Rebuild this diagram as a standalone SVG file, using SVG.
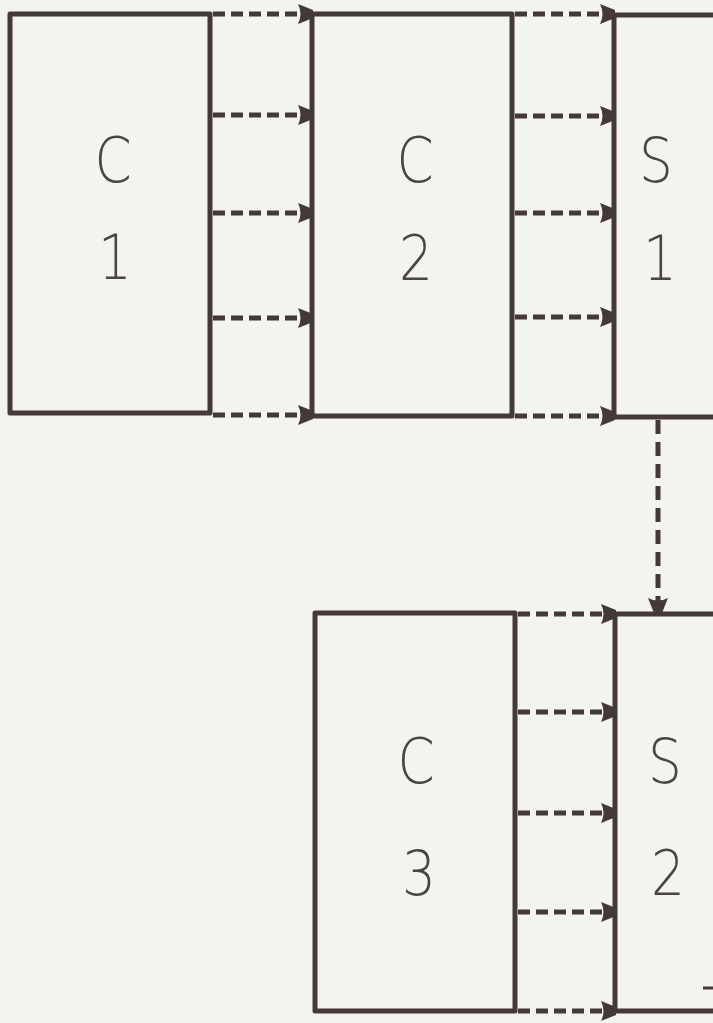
<svg xmlns="http://www.w3.org/2000/svg" width="713" height="1023" viewBox="0 0 713 1023">
<style>
.box{fill:none;stroke:#453838;stroke-width:5;stroke-linejoin:round}
.lbl{font-family:"DejaVu Sans",sans-serif;font-weight:200;font-size:62px;fill:#4a4444;text-anchor:middle}
.dh{stroke:#453838;stroke-width:5;stroke-dasharray:12 6;fill:none;marker-end:url(#ah)}
.dv{stroke:#453838;stroke-width:5;stroke-dasharray:14 8;fill:none;marker-end:url(#ah)}
</style>
<defs>
<marker id="ah" markerUnits="userSpaceOnUse" markerWidth="18" markerHeight="22" refX="16" refY="11" orient="auto" viewBox="0 0 18 22">
<path d="M1,1 L16,7 L16,15 L1,21 Q6,11 1,1 z" fill="#453838"/>
</marker>
</defs>
<rect x="0" y="0" width="713" height="1023" fill="#f3f3ef"/>
<g id="C1"><rect class="box" x="10" y="14" width="200" height="399"/><text class="lbl" transform="translate(113,182) scale(0.86,1)">C</text><text class="lbl" transform="translate(115,279) scale(0.86,1)">1</text></g>
<g id="C2"><rect class="box" x="312" y="14" width="200" height="402"/><text class="lbl" transform="translate(415,182) scale(0.86,1)">C</text><text class="lbl" transform="translate(416,280) scale(0.86,1)">2</text></g>
<g id="S1"><path class="box" d="M720,15 L614,15 L614,417 L720,417"/><text class="lbl" transform="translate(656,182) scale(0.86,1)">S</text><text class="lbl" transform="translate(660,280) scale(0.86,1)">1</text></g>
<g id="C3"><rect class="box" x="315" y="613" width="200" height="398"/><text class="lbl" transform="translate(416,783) scale(0.86,1)">C</text><text class="lbl" transform="translate(419,895) scale(0.86,1)">3</text></g>
<g id="S2"><path class="box" d="M720,614 L615,614 L615,1011 L720,1011"/><text class="lbl" transform="translate(665,783) scale(0.86,1)">S</text><text class="lbl" transform="translate(668,895) scale(0.86,1)">2</text><line x1="703" y1="988" x2="713" y2="988" stroke="#453838" stroke-width="3"/></g>
<g id="connectors">
<line class="dh" x1="213" y1="14" x2="313" y2="14"/>
<line class="dh" x1="213" y1="115" x2="313" y2="115"/>
<line class="dh" x1="213" y1="213" x2="313" y2="213"/>
<line class="dh" x1="213" y1="318" x2="313" y2="318"/>
<line class="dh" x1="213" y1="415" x2="313" y2="415"/>
<line class="dh" x1="515" y1="14" x2="615" y2="14"/>
<line class="dh" x1="515" y1="116" x2="615" y2="116"/>
<line class="dh" x1="515" y1="213" x2="615" y2="213"/>
<line class="dh" x1="515" y1="317" x2="615" y2="317"/>
<line class="dh" x1="515" y1="416" x2="615" y2="416"/>
<line class="dv" x1="658" y1="420" x2="658" y2="613"/>
<line class="dh" x1="518" y1="614" x2="616" y2="614"/>
<line class="dh" x1="518" y1="712" x2="616" y2="712"/>
<line class="dh" x1="518" y1="813" x2="616" y2="813"/>
<line class="dh" x1="518" y1="912" x2="616" y2="912"/>
<line class="dh" x1="518" y1="1011" x2="616" y2="1011"/>
</g>
</svg>
